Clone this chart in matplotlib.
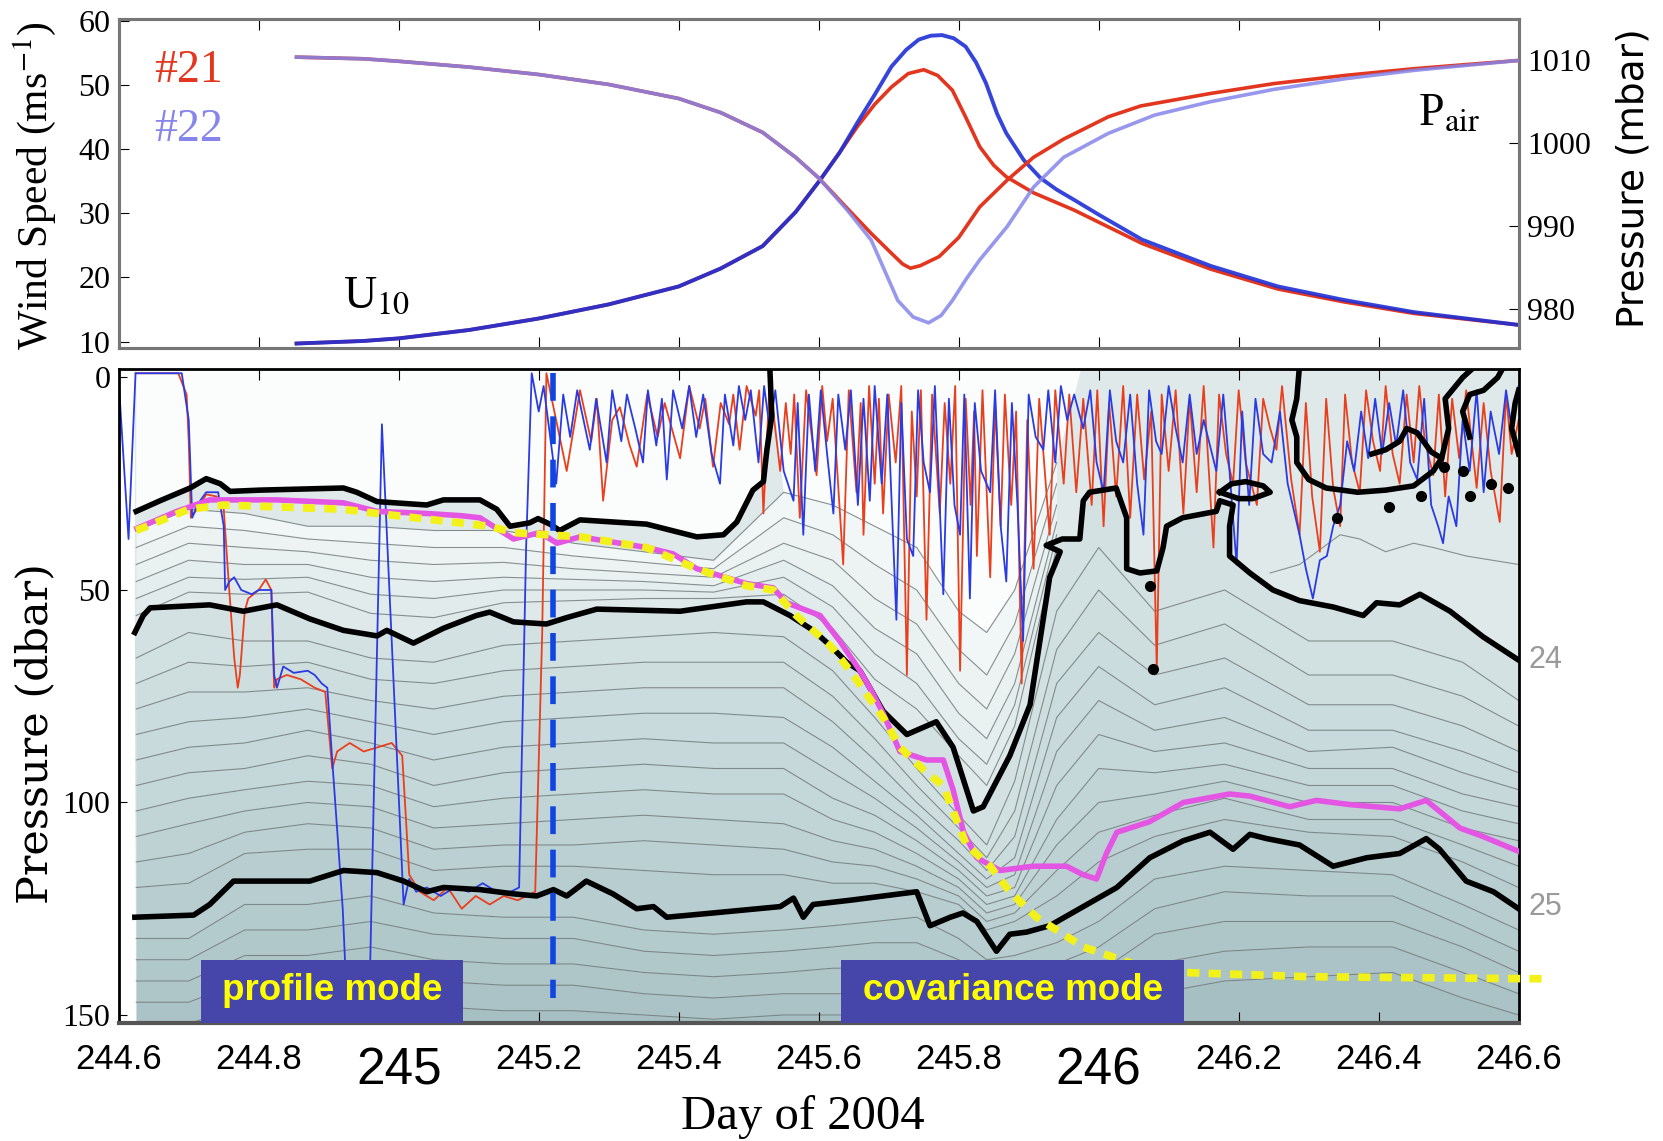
import numpy as np
import matplotlib.pyplot as plt
from matplotlib.patches import Rectangle
from matplotlib.colors import LinearSegmentedColormap

plt.rcParams['font.family'] = 'Liberation Serif'
plt.rcParams['mathtext.fontset'] = 'stix'

RED = '#e2361f'
BLUE = '#1f2fd6'
LBLUE = '#8585ea'

# ---------------- upper panel: U10 and air pressure at floats #21 / #22 ----------------
u10_days_21 = [244.854, 244.95, 245.0, 245.1, 245.2, 245.3, 245.4, 245.46, 245.52, 245.567,
               245.602, 245.63, 245.655, 245.68, 245.704, 245.728, 245.75, 245.77, 245.791,
               245.81, 245.83, 245.85, 245.868, 245.907, 245.965, 246.062, 246.16, 246.256,
               246.35, 246.45, 246.6]
u10_21 = [9.7, 10.1, 10.5, 11.8, 13.6, 15.8, 18.6, 21.4, 24.9, 30.2, 35.2, 39.5, 43.5, 47.0,
          49.7, 51.8, 52.4, 51.5, 49.2, 45.0, 40.4, 37.5, 35.7, 33.2, 30.5, 25.3, 21.3, 18.2,
          16.2, 14.4, 12.6]
u10_days_22 = [244.854, 244.95, 245.0, 245.1, 245.2, 245.3, 245.4, 245.46, 245.52, 245.567,
               245.602, 245.63, 245.655, 245.68, 245.704, 245.725, 245.743, 245.76, 245.776,
               245.793, 245.81, 245.825, 245.839, 245.855, 245.868, 245.893, 245.917, 245.94,
               245.965, 246.0, 246.062, 246.16, 246.256, 246.35, 246.45, 246.6]
u10_22 = [9.7, 10.1, 10.5, 11.8, 13.6, 15.8, 18.6, 21.4, 24.9, 30.2, 35.2, 39.5, 44.1, 48.5,
          52.9, 55.5, 57.1, 57.7, 57.8, 57.3, 56.0, 53.5, 50.3, 45.5, 42.5, 38.3, 35.5, 33.7,
          32.1, 29.8, 25.9, 21.8, 18.6, 16.5, 14.6, 12.6]

pair_days_21 = [244.854, 244.95, 245.0, 245.1, 245.2, 245.3, 245.4, 245.46, 245.52, 245.567,
                245.60, 245.64, 245.675, 245.704, 245.72, 245.731, 245.745, 245.772, 245.80,
                245.83, 245.87, 245.907, 245.95, 246.014, 246.06, 246.159, 246.25, 246.353,
                246.45, 246.6]
pair_21 = [1010.4, 1010.2, 1009.9, 1009.2, 1008.3, 1007.1, 1005.4, 1003.7, 1001.3, 998.3,
           995.8, 992.2, 989.1, 986.7, 985.4, 984.9, 985.2, 986.3, 988.6, 992.3, 995.6, 998.3,
           1000.5, 1003.2, 1004.5, 1006.0, 1007.2, 1008.2, 1009.0, 1010.0]
pair_days_22 = [244.854, 244.95, 245.0, 245.1, 245.2, 245.3, 245.4, 245.46, 245.52, 245.567,
                245.60, 245.64, 245.675, 245.70, 245.713, 245.735, 245.757, 245.775, 245.791,
                245.81, 245.83, 245.869, 245.907, 245.95, 246.014, 246.08, 246.159, 246.25,
                246.353, 246.45, 246.6]
pair_22 = [1010.4, 1010.2, 1009.9, 1009.2, 1008.3, 1007.1, 1005.4, 1003.7, 1001.3, 998.3,
           995.8, 992.0, 988.3, 983.5, 981.0, 979.0, 978.3, 979.2, 981.0, 983.5, 985.9, 989.9,
           994.7, 998.3, 1001.2, 1003.4, 1005.0, 1006.5, 1007.8, 1008.8, 1010.0]

# ---------------- lower panel: isopycnals ----------------
# common sampling days for the thin isopycnals
K = [244.625, 244.70, 244.78, 244.87, 244.96, 245.05, 245.15, 245.25, 245.35, 245.45, 245.55,
     245.62, 245.68, 245.74, 245.80, 245.84, 245.88, 245.94, 246.00, 246.08, 246.18, 246.30,
     246.42, 246.52, 246.60]
nan = np.nan
# lighter than sigma=24 (thermocline, left half)
iso_upper = [
    [36, 31, 32, 35, 35, 36, 36, 39, 41, 43, 27, 30, 35, 40, 55, 60, 50, 20, nan, nan, nan, nan, nan, nan, nan],
    [40, 35, 36, 38, 39, 40, 40, 42, 43.5, 45, 33, 37, 44, 50, 64, 70, 58, 25, nan, nan, nan, nan, nan, nan, nan],
    [44, 39, 40, 41, 43, 44, 43.5, 45, 46, 47, 39, 43, 52, 58, 72, 78, 65, 30, nan, nan, nan, nan, nan, nan, nan],
    [48, 43, 44, 44, 47, 48, 47, 47.5, 48, 49, 43, 49, 59, 65, 79, 85, 72, 34, nan, nan, nan, nan, nan, nan, nan],
    [52, 47, 47.5, 47, 51, 52, 50, 50, 50, 50.5, 47, 54, 65, 72, 85, 91, 77, 37, nan, nan, nan, nan, nan, nan, nan],
    [56, 50.5, 51, 50.5, 55.5, 56.5, 53, 52.5, 52, 52, 51, 59, 71, 78, 89, 96, 82, 40, nan, nan, nan, nan, nan, nan, nan],
]
# between sigma=24 and sigma=25
iso_mid = [
    [66, 60, 62, 62, 66, 67, 63, 62, 61, 60, 61, 69, 80, 92, 103, 110, 95, 55, 40, 55, 50, 62, 62, 67, 76],
    [72, 67, 68, 67, 71, 72, 69, 68, 67, 67, 67, 75, 85, 96, 106, 113, 102, 64, 50, 63, 58, 70, 70, 75, 82],
    [78, 74, 74, 73, 76, 78, 75, 74, 73, 73, 73, 81, 90, 100, 109, 116, 108, 72, 60, 70, 66, 77, 77, 82, 88],
    [84, 81, 80, 78, 81, 84, 81, 80, 79, 79, 80, 87, 95, 103, 112, 118, 113, 80, 68, 77, 73, 83, 83, 88, 93],
    [90, 87, 86, 83, 86, 90, 87, 86, 85, 86, 86, 93, 99, 106, 114, 120, 117, 88, 76, 83, 80, 88, 87, 93, 97],
    [96, 93, 92, 89, 91, 96, 93, 92, 91, 92, 92, 99, 103, 109, 116, 122, 120, 96, 84, 88, 86, 92, 92, 98, 101],
    [102, 99, 97, 95, 96, 101, 99, 98, 97, 98, 98, 104, 107, 112, 118, 124, 122, 104, 92, 93, 91, 96, 96, 102, 105],
    [108, 105, 102, 100, 101, 106, 105, 104, 103, 104, 105, 109, 111, 115, 120, 126, 124, 110, 100, 98, 95, 100, 100, 106, 109],
    [114, 112, 107, 105, 106, 111, 110, 110, 109, 110, 111, 114, 115, 118, 122, 128, 126, 116, 107, 103, 99, 104, 104, 110, 115],
    [120, 119, 112, 111, 111, 116, 115, 115, 116, 117, 117, 119, 119, 121, 124, 130, 128, 122, 114, 108, 104, 107, 108, 114, 120],
]
# denser than sigma=25
iso_deep = [
    [132, 132, 124, 124, 122, 126, 127, 127, 130, 131, 130, 129, 128, 127, 132, 137, 136, 133, 128, 118, 115, 116, 117, 124, 130],
    [137, 137, 130, 130, 128, 131, 132, 132, 135, 136, 135, 134, 133, 133, 137, 141, 140, 138, 134, 125, 121, 122, 122, 129, 135],
    [142, 142, 136, 136, 134, 137, 138, 138, 140, 141, 140, 139, 139, 139, 142, 145, 144, 143, 140, 131, 128, 128, 128, 134, 140],
    [147, 147, 142, 142, 140, 142, 143, 143, 145, 146, 145, 145, 145, 145, 147, 149, 148, 148, 146, 138, 135, 134, 134, 140, 145],
    [152, 152, 148, 148, 147, 148, 149, 149, 150, 151, 150, 150, 150, 151, 152, 153, 153, 153, 152, 145, 142, 141, 140, 146, 150],
]
thin_right_days = [246.245, 246.287, 246.345, 246.373, 246.41, 246.45, 246.478, 246.525, 246.6]
thin_right = [46, 44, 37, 38, 41, 39, 40, 42, 44]

# thick isopycnals
upper_days = [244.625, 244.659, 244.702, 244.725, 244.745, 244.759, 244.802, 244.873, 244.921,
              244.94, 244.969, 245.04, 245.064, 245.116, 245.14, 245.159, 245.187, 245.199,
              245.216, 245.23, 245.259, 245.354, 245.426, 245.464, 245.483, 245.506, 245.521,
              245.526, 245.533, 245.53]
upper_depth = [31.5, 29, 26, 23.8, 25, 26.8, 26.5, 26.2, 26, 27, 29.2, 30, 28.8, 28.8, 31, 35,
               34.2, 33.2, 34.5, 36, 33.5, 34.5, 37.5, 37, 34, 26.5, 24.5, 17, 9, -3]

s24_days = [244.623, 244.635, 244.645, 244.73, 244.778, 244.816, 244.826, 244.873, 244.921,
            244.969, 244.983, 245.021, 245.064, 245.111, 245.13, 245.164, 245.211, 245.24,
            245.283, 245.402, 245.497, 245.521, 245.559, 245.592, 245.616, 245.64, 245.659,
            245.673, 245.692, 245.726, 245.768, 245.792, 245.821, 245.835, 245.873, 245.902,
            245.93, 245.945, 245.925, 245.948, 245.973, 245.978, 245.987, 246.025, 246.04,
            246.04, 246.059, 246.083, 246.092, 246.097, 246.12, 246.168, 246.173, 246.192,
            246.187, 246.187, 246.216, 246.249, 246.287, 246.335, 246.378, 246.397, 246.43,
            246.459, 246.502, 246.549, 246.6]
s24_depth = [60, 56, 54.2, 53.5, 55, 53.8, 53.5, 56.8, 59.5, 60.8, 59.5, 62.5, 59, 56, 55.2, 57.5,
             58, 56.5, 54.5, 55, 52.8, 52.8, 56, 59.5, 63, 67, 69, 73, 78.5, 84, 81, 87, 102, 101,
             89, 77, 47, 41, 39.5, 38, 38, 29, 27, 26, 33, 45, 46, 45.5, 40, 35, 33, 31.5, 29, 30,
             35, 42, 46, 50, 52.5, 54, 56, 53, 53.5, 51, 55, 61, 66.5]

s25_days = [244.623, 244.707, 244.73, 244.764, 244.873, 244.921, 244.969, 245.007, 245.04,
            245.064, 245.116, 245.164, 245.197, 245.221, 245.24, 245.268, 245.306, 245.34,
            245.364, 245.383, 245.449, 245.545, 245.564, 245.578, 245.592, 245.645, 245.74,
            245.759, 245.788, 245.806, 245.826, 245.854, 245.873, 245.897, 245.93, 245.978,
            246.026, 246.073, 246.121, 246.159, 246.192, 246.216, 246.24, 246.287, 246.335,
            246.383, 246.43, 246.468, 246.487, 246.525, 246.564, 246.6]
s25_depth = [127, 126.5, 124, 118.5, 118.5, 116, 116.5, 118.5, 121, 120, 120.5, 121.5, 122, 120.5,
             122, 118.5, 121.5, 125, 124.5, 127, 126, 124.5, 122.5, 127, 124, 123, 121, 129, 127,
             126, 128, 135, 131, 130.5, 129, 124.5, 120, 113, 109, 107, 111, 107.5, 108.5, 110,
             115, 113, 112, 108.5, 111, 118.5, 121, 125]

# near-surface outcrops of the upper isopycnal after the storm
outcrop_pieces = [
    ([246.287, 246.283, 246.276, 246.283, 246.283, 246.30, 246.325, 246.37, 246.41, 246.45,
      246.478, 246.49, 246.475, 246.455, 246.44, 246.43, 246.41, 246.39],
     [-3, 5, 10, 14, 20, 24, 26, 27, 26.5, 25.5, 22, 19, 17.5, 13, 12, 15, 17, 18]),
    ([246.173, 246.19, 246.21, 246.235, 246.245, 246.22, 246.2, 246.173],
     [27, 25, 24.5, 25.5, 27, 28.5, 28.5, 27]),
    ([246.49, 246.50, 246.495, 246.51, 246.52, 246.54],
     [19, 12, 5, 2, 0, -3]),
    ([246.53, 246.52, 246.53, 246.55, 246.57, 246.58],
     [14, 8, 4, 3, 0, -3]),
    ([246.60, 246.59, 246.595, 246.60],
     [18, 12, 6, 3]),
]
blob_days = [246.073, 246.078, 246.34, 246.415, 246.46, 246.493, 246.52, 246.53, 246.56, 246.585]
blob_depth = [49, 68.5, 33, 30.4, 28, 21, 22, 28, 25, 26]

# mixed layer depth and its extrapolation
mld_days = [244.626, 244.683, 244.73, 244.826, 244.921, 244.969, 245.04, 245.088, 245.116,
            245.164, 245.202, 245.226, 245.259, 245.354, 245.392, 245.426, 245.497, 245.535,
            245.554, 245.602, 245.63, 245.659, 245.673, 245.692, 245.716, 245.754, 245.778,
            245.792, 245.807, 245.826, 245.859, 245.906, 245.954, 245.978, 245.997, 246.011,
            246.026, 246.073, 246.121, 246.187, 246.216, 246.273, 246.311, 246.359, 246.43,
            246.468, 246.516, 246.549, 246.6]
mld_depth = [35.5, 31.5, 28.8, 28.8, 29.5, 31.5, 32, 32.5, 33, 38, 36.5, 39, 37.5, 40, 41.5, 45,
             48.5, 49.5, 53, 56, 62, 69, 73, 79, 88, 90, 90, 97, 107, 113, 116, 115, 115, 117,
             118, 112, 107, 104.5, 100, 98, 98.5, 101, 99.5, 100.5, 101.5, 99.5, 106, 108, 111.5]
ext_days = [244.625, 244.70, 244.75, 244.92, 244.97, 245.13, 245.164, 245.211, 245.26, 245.354,
            245.426, 245.497, 245.535, 245.568, 245.616, 245.645, 245.692, 245.716, 245.754,
            245.778, 245.792, 245.811, 245.845, 245.873, 245.911, 245.978, 246.05, 246.121,
            246.3, 246.642]
ext_depth = [36, 31, 30, 31, 32, 35, 36.5, 37, 37.5, 40, 45, 49, 50, 56, 63, 69, 80, 87, 93, 96,
             102, 110, 115, 121, 127, 134, 138, 140, 141, 141.5]

# float tracks (day, pressure)
f21_days = [244.624, 244.685, 244.697, 244.700, 244.703, 244.712, 244.725, 244.740, 244.750,
            244.757, 244.765, 244.770, 244.773, 244.780, 244.785, 244.800, 244.810, 244.818,
            244.822, 244.826, 244.840, 244.860, 244.880, 244.895, 244.905, 244.912, 244.930,
            244.950, 244.970, 244.990, 245.005, 245.015, 245.030, 245.050, 245.070, 245.090,
            245.110, 245.130, 245.150, 245.170, 245.195, 245.205, 245.211,
            245.24, 245.259, 245.275, 245.283, 245.292, 245.305, 245.316, 245.33, 245.34, 245.355,
            245.37, 245.38, 245.402, 245.415, 245.43, 245.438, 245.449, 245.46, 245.472, 245.478,
            245.487, 245.497, 245.51, 245.515, 245.521, 245.53, 245.545, 245.553, 245.56, 245.565,
            245.573, 245.582, 245.597, 245.605, 245.612, 245.62, 245.635, 245.643, 245.654, 245.66,
            245.664, 245.672, 245.68, 245.686, 245.692, 245.70, 245.71, 245.718, 245.726, 245.733,
            245.74, 245.746, 245.754, 245.762, 245.773, 245.78, 245.788, 245.795, 245.802, 245.81,
            245.817, 245.822, 245.826, 245.834, 245.845, 245.852, 245.86, 245.866, 245.875, 245.882,
            245.89, 245.898, 245.907, 245.915, 245.93, 245.938, 245.95, 245.958, 245.968, 245.978,
            245.99, 245.998, 246.007, 246.015, 246.025, 246.035, 246.045, 246.055, 246.065, 246.075,
            246.083, 246.09, 246.1, 246.11, 246.121, 246.13, 246.14, 246.15, 246.164, 246.172,
            246.182, 246.192, 246.2, 246.21, 246.226, 246.235, 246.245, 246.254, 246.262, 246.275,
            246.287, 246.296, 246.305, 246.316, 246.325, 246.335, 246.345, 246.352, 246.362, 246.373,
            246.382, 246.392, 246.402, 246.41, 246.42, 246.43, 246.44, 246.45, 246.458, 246.466,
            246.478, 246.486, 246.495, 246.505, 246.515, 246.525, 246.54, 246.55, 246.56, 246.573,
            246.582, 246.59, 246.6]
f21_depth = [-1, -1, 4, 15, 33, 31, 27.5, 28, 31, 48, 66, 73, 70, 55, 52, 50, 47.5, 50, 73, 71,
             70, 71, 73, 74, 92, 88, 86, 88, 87, 86, 89, 117, 121, 123, 120, 125, 122, 124, 122,
             123, 121, 60, -1,
             22, 3, 15, 5, 29, 10, 7, 16, 21, 4,
             14, 6, 19, 2, 12, 5, 21, 6, 11, 4,
             17, 2, 9, 3, 32, 1, 22, 6, 18, 4,
             33, 3, 23, 2, 15, 5, 44, 3, 27, 6,
             37, 2, 25, 5, 32, 4, 20, 2, 70, 8,
             28, 3, 57, 4, 32, 6, 25, 2, 69, 5,
             30, 8, 42, 3, 47, 6, 35, 4, 30, 8,
             72, 10, 45, 5, 37, 3, 25, 4, 27, 5,
             30, 3, 35, 6, 28, 2, 33, 4, 24, 8,
             69, 4, 22, 3, 32, 5, 27, 2, 40, 4,
             18, 25, 3, 20, 30, 5, 12, 17, 2, 24,
             37, 6, 28, 41, 5, 26, 35, 4, 20, 27,
             3, 15, 22, 2, 18, 25, 4, 20, 2, 15,
             23, 4, 28, 5, 19, 3, 26, 6, 22, 34,
             4, 18, 10]

f22_days = [244.600, 244.614, 244.624, 244.690, 244.700, 244.705, 244.712, 244.725, 244.742,
            244.750, 244.752, 244.758, 244.765, 244.775, 244.790, 244.800, 244.818, 244.822,
            244.826, 244.835, 244.850, 244.870, 244.880, 244.890, 244.898, 244.905, 244.920,
            244.928, 244.957, 244.976, 245.007, 245.015, 245.025, 245.040, 245.060, 245.080,
            245.100, 245.120, 245.140, 245.160, 245.172, 245.182, 245.190,
            245.2, 245.207, 245.225, 245.235, 245.245, 245.255, 245.273, 245.282, 245.297, 245.305,
            245.318, 245.326, 245.338, 245.349, 245.356, 245.368, 245.376, 245.383, 245.392, 245.405,
            245.415, 245.425, 245.435, 245.447, 245.459, 245.466, 245.478, 245.486, 245.495, 245.503,
            245.514, 245.522, 245.53, 245.538, 245.55, 245.564, 245.57, 245.578, 245.586, 245.595,
            245.603, 245.612, 245.621, 245.628, 245.638, 245.646, 245.656, 245.664, 245.673, 245.68,
            245.69, 245.698, 245.711, 245.718, 245.726, 245.735, 245.742, 245.75, 245.759, 245.766,
            245.778, 245.786, 245.794, 245.802, 245.808, 245.816, 245.823, 245.832, 245.845, 245.852,
            245.86, 245.868, 245.876, 245.884, 245.892, 245.9, 245.91, 245.921, 245.928, 245.938,
            245.946, 245.955, 245.965, 245.978, 245.988, 245.997, 246.007, 246.016, 246.025, 246.035,
            246.045, 246.055, 246.064, 246.072, 246.082, 246.09, 246.1, 246.11, 246.12, 246.13,
            246.14, 246.15, 246.168, 246.178, 246.186, 246.197, 246.205, 246.215, 246.224, 246.235,
            246.247, 246.259, 246.27, 246.287, 246.296, 246.306, 246.316, 246.326, 246.335, 246.345,
            246.355, 246.365, 246.375, 246.385, 246.395, 246.405, 246.415, 246.425, 246.435, 246.445,
            246.455, 246.465, 246.475, 246.485, 246.492, 246.5, 246.511, 246.52, 246.53, 246.54,
            246.55, 246.56, 246.572, 246.582, 246.59, 246.6]
f22_depth = [1, 38, -1, -1, 10, 33, 30, 27, 27, 35, 50, 48, 47, 50, 51, 50, 50, 70, 73, 68, 69.5,
             69, 70, 72, 73, 90, 125, 155, 155, 11, 124, 118, 121, 120, 122, 120, 121, 119, 121,
             121, 120, 40, -1,
             8, 2, 25, 4, 14, 3, 17, 5, 20, 3,
             15, 4, 12, 20, 3, 16, 5, 24, 3, 12,
             2, 14, 4, 18, 25, 4, 16, 2, 10, 3,
             20, 2, 12, 3, 22, 29, 6, 37, 4, 22,
             3, 18, 32, 4, 17, 3, 30, 5, 29, 2,
             25, 4, 57, 6, 38, 42, 3, 20, 27, 2,
             51, 5, 30, 37, 4, 52, 6, 22, 27, 3,
             35, 48, 6, 30, 62, 4, 14, 17, 3, 20,
             2, 10, 4, 12, 3, 20, 27, 3, 15, 20,
             4, 25, 37, 3, 15, 18, 2, 12, 20, 4,
             18, 10, 22, 4, 20, 44, 8, 30, 5, 18,
             20, 8, 25, 37, 45, 52, 43, 42, 35, 30,
             15, 22, 8, 19, 5, 18, 6, 16, 3, 20,
             24, 5, 30, 35, 39, 28, 35, 10, 22, 3,
             27, 8, 18, 3, 12, 2]

mode_switch_day = 245.221

# ---------------------------------------------------------------------------
fig = plt.figure(figsize=(16.63, 11.41), dpi=100)
ax1 = fig.add_axes([0.0714, 0.695, 0.8418, 0.2883])
ax2 = fig.add_axes([0.0714, 0.103, 0.8418, 0.5736])

# upper panel
ax1.plot(u10_days_21, u10_21, color=RED, lw=2.6, zorder=3)
ax1.plot(u10_days_22, u10_22, color=BLUE, lw=2.8, zorder=4, alpha=0.9)
ax1.set_xlim(244.6, 246.6)
ax1.set_ylim(9.0, 60.3)
ax1.set_yticks([10, 20, 30, 40, 50, 60])
ax1.tick_params(axis='y', direction='in', length=7, labelsize=23, pad=6)
ax1.set_xticks(np.arange(244.6, 246.61, 0.2))
ax1.tick_params(axis='x', direction='in', length=8, top=True, labelbottom=False)
for s in ax1.spines.values():
    s.set_color('#777777')
    s.set_linewidth(2.2)

ax1r = ax1.twinx()
ax1r.plot(pair_days_21, pair_21, color=RED, lw=2.6, zorder=3)
ax1r.plot(pair_days_22, pair_22, color=LBLUE, lw=2.6, zorder=4, alpha=0.85)
ax1r.set_ylim(975.26, 1015.0)
ax1r.set_yticks([980, 990, 1000, 1010])
ax1r.tick_params(axis='y', direction='in', length=7, labelsize=23, pad=6)
for s in ax1r.spines.values():
    s.set_color('#777777')
    s.set_linewidth(2.2)

ax1.text(244.70, 52.2, '#21', color=RED, fontsize=33, ha='center', va='center')
ax1.text(244.70, 43.0, '#22', color=LBLUE, fontsize=33, ha='center', va='center')
ax1.text(244.968, 17.0, r'U$_{10}$', fontsize=33, ha='center', va='center')
ax1.text(246.50, 45.6, r'P$_{\rm air}$', fontsize=33, ha='center', va='center')

# lower panel
ax2.set_xlim(244.6, 246.6)
ax2.set_ylim(152, -2)

cm = LinearSegmentedColormap.from_list('sea', ['#f6f9f9', '#dbe7e8', '#c3d6d8', '#a5bfc2'])

# light water above sigma=24
ax2.fill([s24_days[0], s24_days[-1]] + s24_days[::-1], [-2, -2] + s24_depth[::-1],
         color='#e0e9ea', lw=0, zorder=0)
# well mixed surface water: above the upper isopycnal and inside the storm wedge
top_line = iso_upper[0]
wedge_days = K[10:18]
wedge_depth = top_line[10:18]
ax2.fill([upper_days[0]] + upper_days + wedge_days + [245.975, 244.625],
         [-2] + upper_depth + wedge_depth + [-2, -2], color='#fbfcfc', lw=0, zorder=0.1)

Ku = np.array(K)
up = np.array(iso_upper, dtype=float)
for i in range(len(up) - 1):
    ok = np.isfinite(up[i]) & np.isfinite(up[i + 1])
    ax2.fill_between(Ku, up[i], up[i + 1], where=ok, color=cm(0.06 + 0.05 * i), lw=0, zorder=0.2)

# water below sigma=24
ax2.fill(s24_days + [246.6, 244.625], s24_depth + [152, 152], color=cm(0.45), lw=0, zorder=0.3)
deep = np.array(iso_mid + iso_deep, dtype=float)
for i in range(len(deep) - 1):
    ax2.fill_between(Ku, deep[i], deep[i + 1], color=cm(0.48 + 0.035 * i), lw=0, zorder=0.4)
ax2.fill_between(Ku, deep[-1], 152, color=cm(1.0), lw=0, zorder=0.4)

for line in iso_upper + iso_mid + iso_deep:
    ax2.plot(K, line, color='#6f7778', lw=0.8, alpha=0.8, zorder=1)
ax2.plot(thin_right_days, thin_right, color='#6f7778', lw=0.8, alpha=0.8, zorder=1)

# float tracks
ax2.plot(f21_days, f21_depth, color='#e8401f', lw=1.3, zorder=2)
ax2.plot(f22_days, f22_depth, color='#2b3be2', lw=1.3, zorder=2.1)

# thick isopycnals
for d, z in [(upper_days, upper_depth), (s24_days, s24_depth), (s25_days, s25_depth)]:
    ax2.plot(d, z, color='black', lw=4, zorder=3, solid_joinstyle='round')
for d, z in outcrop_pieces:
    ax2.plot(d, z, color='black', lw=4, zorder=3, solid_joinstyle='round')
ax2.plot(blob_days, blob_depth, 'o', color='black', ms=7, zorder=3)

ax2.plot(mld_days, mld_depth, color='#e455e4', lw=4, zorder=4)
ax2.plot(ext_days, ext_depth, color='#f2f21a', lw=5.5, dashes=(1.6, 1.2), zorder=5, clip_on=False)
ax2.plot([mode_switch_day, mode_switch_day], [-1, 146], color='#0f45e0', lw=4,
         dashes=(5, 2.8), zorder=6)

# sampling mode labels
for x0, x1, label in [(244.718, 245.092, 'profile mode'), (245.632, 246.122, 'covariance mode')]:
    ax2.add_patch(Rectangle((x0, 137), x1 - x0, 15.5, color='#4646aa', zorder=7, lw=0))
    ax2.text((x0 + x1) / 2, 144.2, label, color='#ffff00', fontsize=26.5, fontweight='bold',
             family='Liberation Sans', ha='center', va='center', zorder=8)

ax2.text(246.614, 66.5, '24', color='#9a9a9a', fontsize=22, family='Liberation Sans',
         ha='left', va='center')
ax2.text(246.614, 124.5, '25', color='#9a9a9a', fontsize=22, family='Liberation Sans',
         ha='left', va='center')

ax2.set_yticks([0, 50, 100, 150])
ax2.tick_params(axis='y', direction='in', length=6, labelsize=23, pad=6)
ticks = np.round(np.arange(244.6, 246.61, 0.2), 1)
ax2.set_xticks(ticks)
ax2.set_xticklabels(['%g' % t for t in ticks], family='Liberation Sans')
ax2.tick_params(axis='x', direction='in', length=8, top=True, labelsize=25, pad=14)
for t, lab in zip(ticks, ax2.get_xticklabels()):
    if t in (245.0, 246.0):
        lab.set_fontsize(37)
        lab.set_y(-0.006)
for s in ax2.spines.values():
    s.set_linewidth(2)
    s.set_color('black')
ax2.spines['bottom'].set_color('#555555')
ax2.spines['bottom'].set_linewidth(3)

fig.text(0.021, 0.837, 'Wind Speed (ms$^{-1}$)', rotation=90, fontsize=30, ha='center', va='center')
fig.text(0.982, 0.844, 'Pressure (mbar)', rotation=90, fontsize=27, family='DejaVu Sans',
         ha='center', va='center')
fig.text(0.021, 0.357, 'Pressure (dbar)', rotation=90, fontsize=31, family='DejaVu Serif',
         ha='center', va='center')
fig.text(0.483, 0.021, 'Day of 2004', fontsize=35, ha='center', va='center')

fig.savefig('out.png', dpi=100)
